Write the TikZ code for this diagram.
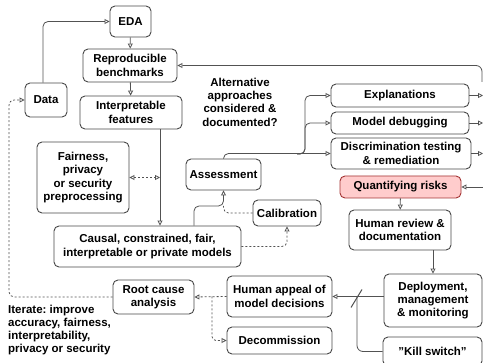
\documentclass[tikz,border=0pt]{standalone}
\usepackage{fontspec}
\setmainfont{Liberation Sans}
\usetikzlibrary{arrows.meta,calc}
\frenchspacing

\tikzset{
  box/.style={draw=black!72, line width=0.9pt, rounded corners=5pt, fill=white,
    align=center, inner sep=2pt, font=\fontsize{11.5}{13.3}\selectfont\bfseries},
  risk/.style={box, fill=red!20!white, draw=red!55!black!80},
  lbl/.style={inner sep=0pt, font=\fontsize{11.5}{13.3}\selectfont\bfseries},
  conn/.style={draw=black!68, line width=0.8pt},
  arr/.style={conn, -{Triangle[open,length=5pt,width=5pt]}},
  dashconn/.style={conn, dash pattern=on 2pt off 2pt},
  dasharr/.style={arr, dash pattern=on 2pt off 2pt},
}

\begin{document}
\begin{tikzpicture}[x=1pt, y=-1pt]
\path[use as bounding box, clip] (0,0) rectangle (483,363);

% stages of the workflow
\node[box, minimum width=41pt, minimum height=31pt] (eda) at (130.5,21.5) {EDA};
\node[box, minimum width=94pt, minimum height=33pt] (repro) at (130,65.5) {Reproducible\\benchmarks};
\node[box, minimum width=102pt, minimum height=33pt] (interp) at (131,112.5) {Interpretable\\features};
\node[box, minimum width=42pt, minimum height=34pt] (data) at (46,100) {Data};
\node[box, minimum width=92pt, minimum height=71pt] (fair) at (83,177.5) {Fairness,\\privacy\\or security\\preprocessing};
\node[box, minimum width=75pt, minimum height=31pt] (assess) at (223.5,174.5) {Assessment};
\node[box, minimum width=68pt, minimum height=26pt] (calib) at (287,213) {Calibration};
\node[box, minimum width=187pt, minimum height=41pt] (causal) at (147.5,246.5) {Causal, constrained, fair,\\interpretable or private models};
\node[box, minimum width=138pt, minimum height=23pt] (expl) at (400,95.5) {Explanations};
\node[box, minimum width=138pt, minimum height=22pt] (debug) at (400,123) {Model debugging};
\node[box, minimum width=140pt, minimum height=31pt] (discr) at (401,153.5) {Discrimination testing\\\& remediation};
\node[risk, minimum width=121pt, minimum height=22pt] (quant) at (400.5,187) {Quantifying risks};
\node[box, minimum width=102pt, minimum height=40pt] (review) at (400,230) {Human review \&\\documentation};
\node[box, minimum width=98pt, minimum height=53pt] (deploy) at (433,300.5) {Deployment,\\management\\\& monitoring};
\node[box, minimum width=99pt, minimum height=29pt] (kill) at (432.5,351.5) {\symbol{34}Kill switch\symbol{34}};
\node[box, minimum width=105pt, minimum height=41pt] (appeal) at (279.5,296.5) {Human appeal of\\model decisions};
\node[box, minimum width=105pt, minimum height=27pt] (decom) at (279.5,340.5) {Decommission};
\node[box, minimum width=81pt, minimum height=34pt] (root) at (153.5,297) {Root cause\\analysis};

% free-standing labels
\node[lbl, align=center] (alt) at (240,102) {Alternative\\approaches\\considered \&\\documented?};
\node[lbl, align=left, anchor=west] (iter) at (8,330) {Iterate: improve\\accuracy, fairness,\\interpretability,\\privacy or security};

% helper coordinates for bends and trunks
\coordinate (dx) at (43,0);
\coordinate (vx) at (160,0);
\coordinate (cx) at (194,0);
\coordinate (j1) at (223.5,206);
\coordinate (b0) at (297,154);
\coordinate (bx) at (305,0);
\coordinate (re) at (483,0);
\coordinate (rtop) at (482,82);
\coordinate (kb) at (357,296.5);
\coordinate (db) at (212,296.5);
\coordinate (lx) at (9,0);

% main pipeline
\draw[arr, rounded corners=5pt] (data.north -| dx) |- (eda.west);
\draw[arr] (eda) -- (repro);
\draw[arr] (repro) -- (interp);
\draw[arr] (interp.south -| vx) -- (causal.north -| vx);
\draw[dasharr, {Triangle[open,length=5pt,width=5pt]}-{Triangle[open,length=5pt,width=5pt]}] (fair.east) -- (fair.east -| vx);

% models to assessment and calibration
\draw[arr, rounded corners=5pt] (causal.north -| cx) |- (j1) -- (assess.south);
\draw[dashconn, rounded corners=5pt] (calib.west) -| (j1);
\draw[dasharr, rounded corners=5pt] (causal.east) -| (calib.south);

% assessment fans out to the tests
\draw[arr, rounded corners=5pt] (assess.north) |- (discr.west);
\draw[arr, rounded corners=5pt] (b0) -| (bx |- expl.west) -- (expl.west);
\draw[arr, rounded corners=5pt] (b0) -| (bx |- debug.west) -- (debug.west);

% links running off the right edge
\draw[arr] (expl.east) -- (expl.east -| re);
\draw[arr] (debug.east) -- (debug.east -| re);
\draw[arr] (discr.east) -- (discr.east -| re);
\draw[arr] (quant.east -| re) -- (quant.east);
\draw[arr, rounded corners=6pt] (rtop) |- (repro.east);

% review and deployment
\draw[arr] (quant) -- (review);
\draw[arr] (review.south -| deploy.north) -- (deploy.north);
\draw[arr] (deploy.west |- appeal.east) -- (appeal.east);
\draw[conn, rounded corners=6pt] (kb) |- (kill.west);
\draw[conn, line width=1pt] ($(kb)+(-6,11)$) -- ($(kb)+(5,-7)$);

% feedback loop
\draw[dasharr] (appeal.west) -- (root.east);
\draw[dasharr, rounded corners=4pt] (db) |- (decom.west);
\draw[dasharr, rounded corners=5pt] (root.west) -| (lx |- data.west) -- (data.west);
\end{tikzpicture}
\end{document}
